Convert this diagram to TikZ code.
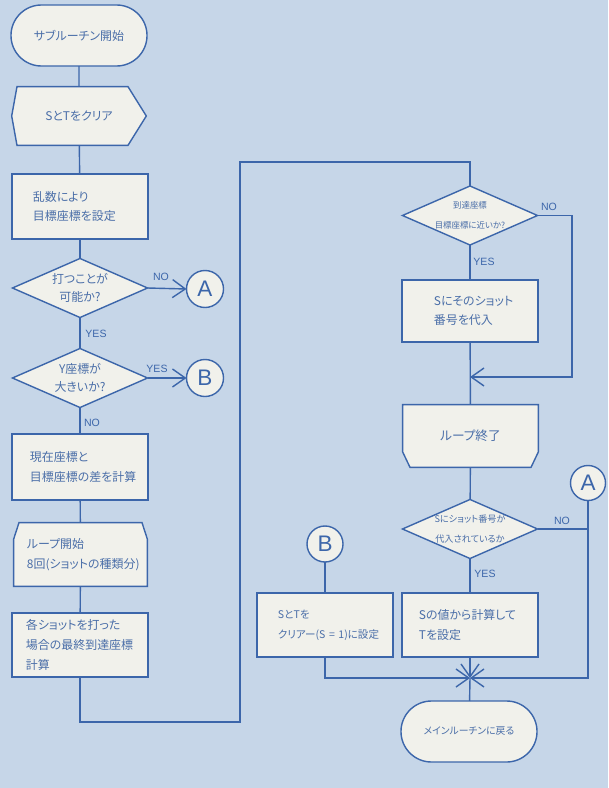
\documentclass[tikz,border=0pt]{standalone}
\usepackage{fontspec}
\usepackage{tikz}
\usetikzlibrary{shapes.geometric,shapes.misc,arrows.meta}
\newfontfamily\jp[RawFeature=+palt]{Noto Sans CJK JP}
\newfontfamily\lb{Liberation Sans}
\definecolor{bgc}{RGB}{198,214,232}
\definecolor{boxc}{RGB}{241,241,235}
\definecolor{linec}{RGB}{60,102,170}
\definecolor{txtc}{RGB}{74,110,168}

\begin{document}
\begin{tikzpicture}[x=0.025cm,y=-0.025cm,line width=1pt,color=linec,
  every node/.style={font=\jp\fontsize{8.5}{14}\selectfont,text=txtc,inner sep=0pt,outer sep=0pt},
  term/.style={rounded rectangle,draw=linec,fill=boxc,minimum width=3.4cm,minimum height=1.525cm,align=center},
  proc/.style={rectangle,draw=linec,fill=boxc,minimum height=1.6cm,inner xsep=#1,text width={3.4cm-2*#1},align=left},
  dec/.style={diamond,aspect=2.27,draw=linec,fill=boxc,minimum width=3.375cm,minimum height=1.475cm,inner sep=-2pt,align=center,font=\jp\fontsize{8.5}{12.8}\selectfont},
  conn/.style={circle,draw=linec,fill=boxc,minimum size=0.925cm,font=\lb\fontsize{16}{16}\selectfont,text=linec},
  lbl/.style={font=\lb\fontsize{7.5}{8}\selectfont,text=linec},
  arr/.style={-{Straight Barb[length=0.32cm,width=0.45cm]}},
  hexbox/.style={rectangle,fill=bgc,minimum width=3.4cm,minimum height=1.5cm,align=center,
    path picture={\filldraw[draw=linec,fill=boxc]
      ([xshift=0.15cm,yshift=-0.5pt]path picture bounding box.north west)
      -- ([xshift=-0.475cm,yshift=-0.5pt]path picture bounding box.north east)
      -- ([xshift=-0.5pt]path picture bounding box.east)
      -- ([xshift=-0.475cm,yshift=0.5pt]path picture bounding box.south east)
      -- ([xshift=0.15cm,yshift=0.5pt]path picture bounding box.south west)
      -- ([xshift=0.5pt]path picture bounding box.west) -- cycle;}},
  lpstbox/.style={rectangle,fill=bgc,minimum width=3.375cm,minimum height=1.625cm,inner xsep=0.35cm,text width=2.675cm,align=left,
    path picture={\filldraw[draw=linec,fill=boxc]
      ([xshift=0.15cm,yshift=-0.5pt]path picture bounding box.north west)
      -- ([xshift=-0.15cm,yshift=-0.5pt]path picture bounding box.north east)
      -- ([xshift=-0.5pt,yshift=-0.425cm]path picture bounding box.north east)
      -- ([xshift=-0.5pt,yshift=0.5pt]path picture bounding box.south east)
      -- ([xshift=0.5pt,yshift=0.5pt]path picture bounding box.south west)
      -- ([xshift=0.5pt,yshift=-0.425cm]path picture bounding box.north west) -- cycle;}},
  lpenbox/.style={rectangle,fill=bgc,minimum width=3.425cm,minimum height=1.6cm,align=center,
    path picture={\filldraw[draw=linec,fill=boxc]
      ([xshift=0.5pt,yshift=-0.5pt]path picture bounding box.north west)
      -- ([xshift=-0.5pt,yshift=-0.5pt]path picture bounding box.north east)
      -- ([xshift=-0.5pt,yshift=0.4cm]path picture bounding box.south east)
      -- ([xshift=-0.2cm,yshift=0.5pt]path picture bounding box.south east)
      -- ([xshift=0.2cm,yshift=0.5pt]path picture bounding box.south west)
      -- ([xshift=0.5pt,yshift=0.4cm]path picture bounding box.south west) -- cycle;}}]
\fill[bgc] (0,0) rectangle (608,788);

\node[term] (start) at (79,35.5) {サブルーチン開始};
\node[hexbox] (clr) at (79,116) {SとTをクリア};
\node[proc=0.525cm,minimum height=1.625cm] (rnd) at (80,206.5) {乱数により\\目標座標を設定};
\node[dec] (q1) at (80,288) {打つことが\\可能か?};
\node[dec] (q2) at (80,378) {Y座標が\\大きいか?};
\node[proc=0.45cm,minimum height=1.65cm] (diff) at (80,467) {現在座標と\\目標座標の差を計算};
\node[lpstbox] (lpst) at (80.5,554.5) {ループ開始\\8回(ショットの種類分)};
\node[proc=0.35cm] (calc) at (80,645) {各ショットを打った\\場合の最終到達座標\\計算};
\node[conn] (ca) at (205,289) {A};
\node[conn] (cb) at (205,378) {B};

\node[dec,font=\jp\fontsize{6}{14}\selectfont] (q3) at (470,215.5) {到達座標\\目標座標に近いか?};
\node[proc=0.8cm,minimum height=1.55cm] (sset) at (470,311) {Sにそのショット\\番号を代入};
\node[lpenbox,font=\jp\fontsize{9}{14}\selectfont] (lpen) at (470.5,436) {ループ終了};
\node[dec,font=\jp\fontsize{6.5}{14}\selectfont] (q4) at (470,529) {Sにショット番号が\\代入されているか};
\node[conn,minimum size=0.875cm] (ca2) at (588,483) {A};
\node[conn,minimum size=0.9cm] (cb2) at (325,544) {B};
\node[proc=0.525cm,font=\jp\fontsize{7.5}{14}\selectfont] (clr2) at (325,625) {SとTを\\クリアー(S~=~1)に設定};
\node[proc=0.425cm] (tset) at (470,625) {Sの値から計算して\\Tを設定};
\node[term,font=\jp\fontsize{7}{14}\selectfont] (fin) at (469,731.5) {メインルーチンに戻る};

\coordinate (bl) at (240,722);
\coordinate (tl) at (240,162);
\coordinate (nr) at (572,377);
\coordinate (j1) at (470,377);
\coordinate (j2) at (470,678);

\draw (start) -- (clr);
\draw (clr) -- (rnd);
\draw (rnd) -- (q1);
\draw (q1) -- (q2);
\draw (q2) -- (diff);
\draw (diff) -- (lpst);
\draw (lpst) -- (calc);
\draw[arr] (q1.east) -- (ca.west);
\draw[arr] (q2.east) -- (cb.west);
\draw (calc.south) |- (bl) -- (tl) -| (q3.north);
\draw (q3) -- (sset);
\draw[arr] (q3.east) -| (nr) -- (j1);
\draw (sset) -- (lpen);
\draw (lpen) -- (q4);
\draw (q4) -- (tset);
\draw (q4.east) -- (q4.east -| ca2.south);
\draw (cb2) -- (clr2);
\draw[arr] (clr2.south) |- (j2);
\draw[arr] (ca2.south) |- (j2);
\draw[arr] (tset.south) -- (j2);
\draw (j2) -- (fin);

\node[lbl] (n1) at (161,277) {NO};
\node[lbl] (y1) at (96,334) {YES};
\node[lbl] (y2) at (157,369) {YES};
\node[lbl] (n2) at (92,423) {NO};
\node[lbl] (n3) at (549,207) {NO};
\node[lbl] (y3) at (484,262) {YES};
\node[lbl] (n4) at (562,521) {NO};
\node[lbl] (y4) at (485,574) {YES};
\end{tikzpicture}
\end{document}
